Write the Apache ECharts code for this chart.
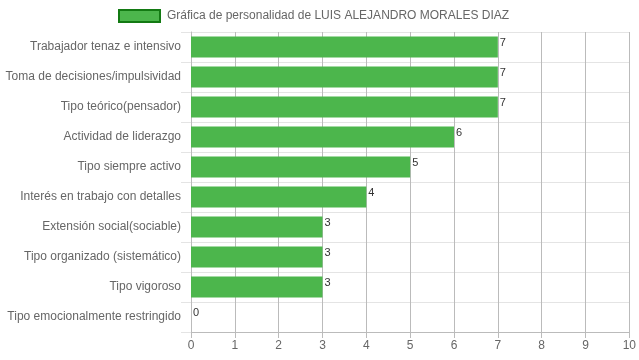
<!DOCTYPE html>
<html><head><meta charset="utf-8">
<script src="https://cdn.jsdelivr.net/npm/echarts@6/dist/echarts.min.js"></script>
<style>html,body{margin:0;padding:0;background:#fff}#c{width:639px;height:360px}</style>
</head><body><div id="c"></div>
<script>
const categories = ["Trabajador tenaz e intensivo","Toma de decisiones/impulsividad","Tipo teórico(pensador)","Actividad de liderazgo","Tipo siempre activo","Interés en trabajo con detalles","Extensión social(sociable)","Tipo organizado (sistemático)","Tipo vigoroso","Tipo emocionalmente restringido"];
const values = [7,7,7,6,5,4,3,3,3,0];
const seriesName = "Gráfica de personalidad de LUIS ALEJANDRO MORALES DIAZ";
const xTicks = [0,1,2,3,4,5,6,7,8,9,10];
const font = "'Liberation Sans', Arial, sans-serif";
const chart = echarts.init(document.getElementById('c'), null, {renderer:'canvas'});
chart.setOption({
  animation:false,
  textStyle:{fontFamily:font},
  legend:{top:4, left:113, itemWidth:41, itemHeight:12, itemGap:8,
    textStyle:{color:'#666', fontSize:12, fontFamily:font, padding:[0,0,0,2]},
    data:[{name:seriesName, icon:'rect', itemStyle:{color:'#4CB64C', borderColor:'#137A13', borderWidth:2}}]},
  grid:{left:191, right:9, top:32, bottom:28, containLabel:false},
  xAxis:{type:'value', min:xTicks[0], max:xTicks[xTicks.length-1], interval:1,
    axisLine:{show:true, lineStyle:{color:'#bbb'}},
    axisTick:{show:true, length:6, lineStyle:{color:'#bbb'}},
    axisLabel:{color:'#666', fontSize:12, fontFamily:font, margin:8},
    splitLine:{show:true, lineStyle:{color:'#bbb'}}},
  yAxis:{type:'category', data:categories, inverse:true,
    axisLine:{show:true, lineStyle:{color:'#bbb'}},
    axisTick:{show:true, length:10, lineStyle:{color:'#e4e4e4'}},
    axisLabel:{color:'#666', fontSize:12, fontFamily:font, margin:10},
    splitLine:{show:true, lineStyle:{color:'#e4e4e4'}}},
  series:[{name:seriesName, type:'bar', data:values, barWidth:21,
    itemStyle:{color:'#4CB64C'},
    label:{show:true, position:'right', distance:2, offset:[0,-4], color:'#333', fontSize:11, fontFamily:font}}]
});
</script></body></html>
